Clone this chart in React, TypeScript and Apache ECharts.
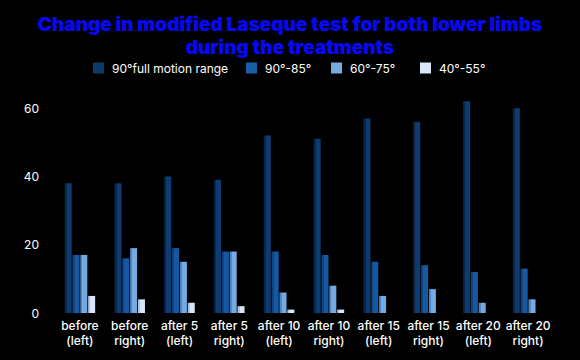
import React, { useEffect, useRef } from "react";
import * as echarts from "echarts";

const categories = [
  "before\n(left)",
  "before\nright)",
  "after 5\n(left)",
  "after 5\nright)",
  "after 10\n(left)",
  "after 10\nright)",
  "after 15\n(left)",
  "after 15\nright)",
  "after 20\n(left)",
  "after 20\nright)",
];
const seriesNames = ["90°full motion range", "90°-85°", "60°-75°", "40°-55°"];
const fullRange = [38, 38, 40, 39, 52, 51, 57, 56, 62, 60];
const range90to85 = [17, 16, 19, 18, 18, 17, 15, 14, 12, 13];
const range60to75 = [17, 19, 15, 18, 6, 8, 5, 7, 3, 4];
const range40to55 = [5, 4, 3, 2, 1, 1, 0, 0, 0, 0];
const yTicks = [0, 20, 40, 60];

const colors = [
  { side: "#08264a", front: "#0e3c70", legend: "#0e3a6a" },
  { side: "#0e4480", front: "#1659a2", legend: "#1860a6" },
  { side: "#4f86c4", front: "#74aae0", legend: "#74aae0" },
  { side: "#aec4e6", front: "#d8e6f8", legend: "#d8e6f8" },
];

const legendLeft = [88, 241, 326, 415];

export default function App() {
  const ref = useRef<HTMLDivElement>(null);
  useEffect(() => {
    if (!ref.current) return;
    const chart = echarts.init(ref.current, null, { renderer: "svg" });
    const data = [fullRange, range90to85, range60to75, range40to55];
    chart.setOption({
      animation: false,
      backgroundColor: "#000000",
      title: {
        text: "Change in modified Laseque test for both lower limbs\nduring the treatments",
        left: "center",
        top: 8,
        textStyle: {
          color: "#0808f8",
          fontFamily: "Inter",
          fontWeight: 900,
          fontSize: 19,
          lineHeight: 23,
        },
      },
      legend: seriesNames.map((n, i) => ({
        data: [{ name: n, itemStyle: { color: colors[i].legend } }],
        left: legendLeft[i],
        top: 57,
        itemWidth: 11,
        itemHeight: 11,
        icon: "rect",
        itemGap: 8,
        textStyle: { color: "#ffffff", fontSize: 12, fontFamily: "Inter", padding: [0, 0, 0, 3] },
      })),
      grid: { left: 55, right: 27, top: 74, bottom: 47 },
      xAxis: {
        type: "category",
        data: categories,
        axisLine: { show: false },
        axisTick: { show: false },
        axisLabel: {
          color: "#ffffff",
          fontFamily: "Inter",
          fontWeight: 500,
          fontSize: 12,
          lineHeight: 15,
          margin: 5,
          interval: 0,
        },
      },
      yAxis: {
        type: "value",
        min: 0,
        max: 70,
        interval: 20,
        splitLine: { show: false },
        axisLine: { show: false },
        axisTick: { show: false },
        axisLabel: {
          color: "#ffffff",
          fontFamily: "Inter",
          fontSize: 12,
          margin: 16,
          showMaxLabel: false,
          formatter: (v: number) => (yTicks.includes(v) ? String(v) : ""),
        },
      },
      series: seriesNames.map((n, i) => ({
        name: n,
        type: "bar",
        data: data[i],
        barWidth: 7,
        barGap: "12%",
        itemStyle: {
          color: new echarts.graphic.LinearGradient(0, 0, 1, 0, [
            { offset: 0, color: colors[i].side },
            { offset: 0.3, color: colors[i].side },
            { offset: 0.31, color: colors[i].front },
            { offset: 1, color: colors[i].front },
          ]),
        },
      })),
    });
    return () => chart.dispose();
  }, []);
  return (
    <div
      ref={ref}
      style={{ position: "fixed", left: 0, top: 0, width: 580, height: 360 }}
    />
  );
}
